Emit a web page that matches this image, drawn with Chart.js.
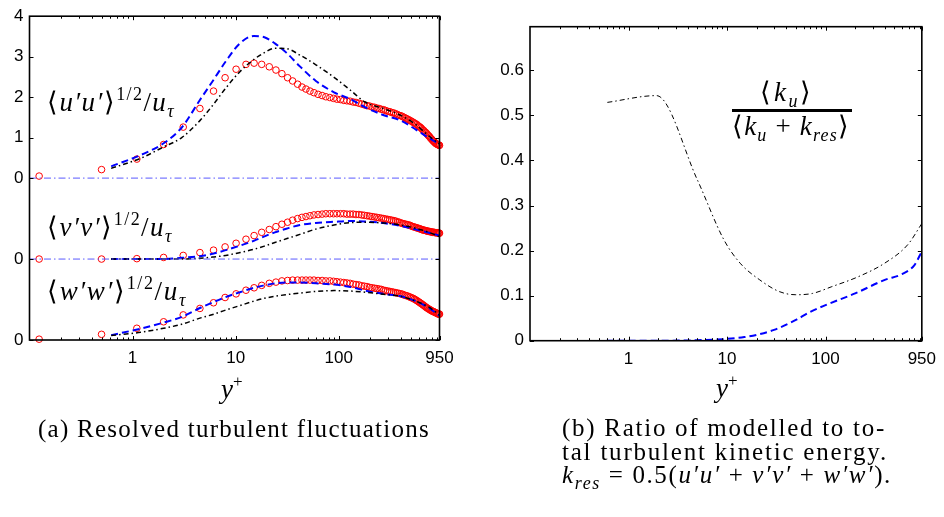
<!DOCTYPE html>
<html><head><meta charset="utf-8">
<script src="https://cdn.jsdelivr.net/npm/chart.js@4.4.1/dist/chart.umd.min.js"></script>
<style>
body{margin:0;background:#fff;}
#wrap{position:relative;width:944px;height:517px;overflow:hidden;background:#fff}
canvas{position:absolute;top:0}
.t{position:absolute;font-family:'Liberation Serif',serif;color:#000;white-space:nowrap;line-height:1}
.m{font-style:italic}
.r{font-style:normal}
.sup{font-size:18px;position:relative;top:-11px;font-style:normal}
.sub{font-size:18px;position:relative;top:6px;font-style:italic}
</style></head><body>
<div id="wrap">
<canvas id="c1" width="472" height="517" style="left:0"></canvas>
<canvas id="c2" width="472" height="517" style="left:472px"></canvas>

<div class="t" data-w="128" style="left:47px;top:88.5px;font-size:27px"><span class="r">⟨</span><span class="m">u′u′</span><span class="r">⟩</span><span class="sup">1/2</span><span class="r">/</span><span class="m">u</span><span class="sub">τ</span></div>
<div class="t" data-w="126" style="left:47px;top:214px;font-size:27px"><span class="r">⟨</span><span class="m">v′v′</span><span class="r">⟩</span><span class="sup">1/2</span><span class="r">/</span><span class="m">u</span><span class="sub">τ</span></div>
<div class="t" data-w="140" style="left:47px;top:278px;font-size:27px"><span class="r">⟨</span><span class="m">w′w′</span><span class="r">⟩</span><span class="sup">1/2</span><span class="r">/</span><span class="m">u</span><span class="sub">τ</span></div>

<div class="t" data-w="53" data-cx="787" style="top:78.5px;font-size:27px"><span class="r">⟨</span><span class="m">k</span><span class="sub">u</span><span class="r">⟩</span></div>
<div style="position:absolute;left:731.5px;top:108.5px;width:120.5px;height:3px;background:#000"></div>
<div class="t" data-w="118" data-cx="791" style="top:112.5px;font-size:27px"><span class="r">⟨</span><span class="m">k</span><span class="sub">u</span><span class="r"> + </span><span class="m">k</span><span class="sub">res</span><span class="r">⟩</span></div>

<div class="t m" style="left:221px;top:376px;font-size:27px">y<span class="r" style="font-size:17px;position:relative;top:-11px">+</span></div>
<div class="t m" style="left:716px;top:375px;font-size:27px">y<span class="r" style="font-size:17px;position:relative;top:-11px">+</span></div>

<div class="t" data-w="392" style="left:38px;top:415.8px;font-size:25px">(a) Resolved turbulent fluctuations</div>
<div class="t" data-w="324" style="left:562px;top:415px;font-size:25px">(b) Ratio of modelled to to-</div>
<div class="t" data-w="326" style="left:562px;top:439px;font-size:25px">tal turbulent kinetic energy.</div>
<div class="t" data-w="330" style="left:562px;top:462px;font-size:25px"><span class="m">k</span><span class="sub">res</span> = 0.5(<span class="m">u′u′</span> + <span class="m">v′v′</span> + <span class="m">w′w′</span>).</div>
</div>
<script>
// ---------------- DATA ----------------
// resolved fluctuation profiles (red circles), wall-normal grid points
const circleX = [0.124,0.5,1.1,2.0,3.1,4.5,6.1,7.9,10.1,12.6,
  15.1,17.9,21.2,24.6,28.1,31.9,35.7,39.9,44,48.1,
  52.6,57.5,63,69,75,82,89,96,104,112,
  120,129,138,147,157,167,177,188,199,210,
  222,234,246,259,272,285,299,313,327,341,
  356,371,386,401,416,431,447,463,479,495,
  511,527,543,559,575,591,607,623,639,655,
  671,687,703,719,735,751,767,783,799,815,
  831,847,863,879,895,911,927,943,950];
const uCircles = [0.05,0.21,0.47,0.83,1.26,1.72,2.15,2.48,2.69,2.81,
  2.84,2.81,2.75,2.67,2.58,2.48,2.40,2.32,2.25,2.20,
  2.15,2.11,2.07,2.04,2.01,1.99,1.97,1.95,1.94,1.92,
  1.91,1.90,1.88,1.87,1.85,1.83,1.81,1.79,1.78,1.76,
  1.75,1.73,1.72,1.70,1.69,1.67,1.65,1.64,1.62,1.61,
  1.59,1.57,1.55,1.54,1.52,1.50,1.48,1.46,1.44,1.42,
  1.40,1.38,1.36,1.34,1.32,1.29,1.27,1.25,1.22,1.19,
  1.17,1.14,1.12,1.09,1.06,1.04,1.01,0.98,0.96,0.93,
  0.91,0.89,0.87,0.85,0.84,0.83,0.82,0.81,0.81];
const vCircles = [0,0,0.01,0.04,0.09,0.16,0.22,0.30,0.39,0.49,
  0.58,0.66,0.73,0.80,0.86,0.91,0.96,1.00,1.03,1.05,
  1.07,1.09,1.10,1.11,1.12,1.12,1.12,1.12,1.12,1.12,
  1.11,1.11,1.11,1.10,1.10,1.09,1.08,1.07,1.06,1.05,
  1.04,1.03,1.02,1.01,1.00,0.99,0.98,0.97,0.96,0.95,
  0.94,0.92,0.91,0.89,0.88,0.87,0.86,0.85,0.84,0.83,
  0.81,0.80,0.79,0.78,0.77,0.76,0.75,0.74,0.73,0.72,
  0.71,0.71,0.70,0.69,0.69,0.68,0.68,0.67,0.67,0.66,
  0.66,0.66,0.65,0.65,0.65,0.65,0.64,0.64,0.64];
const wCircles = [0.02,0.14,0.29,0.45,0.62,0.78,0.92,1.05,1.14,1.23,
  1.29,1.35,1.40,1.43,1.46,1.47,1.48,1.48,1.48,1.48,
  1.48,1.48,1.47,1.47,1.46,1.46,1.45,1.44,1.43,1.42,
  1.41,1.40,1.38,1.37,1.36,1.34,1.33,1.32,1.30,1.29,
  1.28,1.27,1.26,1.25,1.23,1.22,1.21,1.20,1.19,1.18,
  1.17,1.16,1.15,1.14,1.13,1.11,1.10,1.09,1.07,1.06,
  1.04,1.03,1.01,0.99,0.97,0.95,0.93,0.91,0.89,0.87,
  0.85,0.83,0.81,0.79,0.78,0.76,0.75,0.73,0.72,0.71,
  0.70,0.69,0.68,0.67,0.66,0.65,0.64,0.64,0.64];

// line profiles (blue dashed / black dash-dot)
const lineX   = [0.62,1.2,2,3,4.5,6,8,11,15,19,24,31,42,60,90,130,180,270,400,560,750,950];
const uBlue   = [0.29,0.57,0.86,1.25,1.93,2.40,2.88,3.33,3.51,3.48,3.33,3.10,2.76,2.40,2.12,1.95,1.75,1.56,1.42,1.20,0.99,0.84];
const uBlack  = [0.24,0.49,0.77,1.00,1.42,1.80,2.22,2.63,2.93,3.10,3.21,3.20,3.04,2.80,2.49,2.17,1.88,1.72,1.55,1.32,1.04,0.84];
const vBlue   = [0,0,0,0.03,0.07,0.13,0.22,0.33,0.45,0.56,0.66,0.75,0.84,0.89,0.92,0.94,0.93,0.89,0.82,0.73,0.65,0.58];
const vBlack  = [0,0,0,0,0.02,0.05,0.09,0.16,0.24,0.32,0.41,0.50,0.61,0.74,0.84,0.90,0.91,0.89,0.84,0.76,0.66,0.55];
const wBlue   = [0.12,0.28,0.43,0.57,0.79,0.93,1.06,1.18,1.29,1.35,1.40,1.42,1.42,1.40,1.37,1.31,1.22,1.14,1.08,0.96,0.79,0.60];
const wBlack  = [0.11,0.19,0.29,0.39,0.54,0.63,0.74,0.85,0.96,1.03,1.08,1.12,1.16,1.20,1.22,1.21,1.18,1.13,1.08,0.96,0.81,0.62];

const profileOffsets = [4, 2, 0];   // stacking of u, v, w panels
const baselineLevels = [4, 2];      // zero lines of the shifted u and v profiles

// ratio of resolved to total TKE (right panel)
const ratioBlackX = [0.61,1.92,5.0,9.3,13.6,21.5,34,50,74,116,215,398,683,950];
const ratioBlack  = [0.529,0.544,0.357,0.224,0.172,0.135,0.109,0.102,0.105,0.120,0.142,0.172,0.213,0.260];
const ratioBlueX  = [0.6,2,5,10,15,20,30,50,70,100,200,400,600,800,950];
const ratioBlue   = [0,0,0.001,0.004,0.008,0.013,0.024,0.046,0.064,0.079,0.105,0.135,0.148,0.168,0.198];

// ticks
const xMajorTicks  = [1,10,100,950];
const xMajorLabels = ['1','10','100','950'];
const xMinorTicks  = [0.2,0.3,0.4,0.5,0.6,0.7,0.8,0.9,2,3,4,5,6,7,8,9,20,30,40,50,60,70,80,90,200,300,400,500,600,700,800,900];
const leftYTicks   = [0,2,4,5,6,7,8];
const leftYLabels  = ['0','0','0','1','2','3','4'];
const rightYTicks  = [0,0.1,0.2,0.3,0.4,0.5,0.6];
const rightYLabels = ['0','0.1','0.2','0.3','0.4','0.5','0.6'];

// ---------------- TEXT FITTING ----------------
document.querySelectorAll('[data-w]').forEach(el=>{
  el.style.letterSpacing='0px';
  const nat=el.getBoundingClientRect().width;
  const n=el.textContent.length;
  el.style.letterSpacing=((parseFloat(el.dataset.w)-nat)/n)+'px';
  if(el.dataset.cx){const w=el.getBoundingClientRect().width;el.style.left=(parseFloat(el.dataset.cx)-w/2)+'px';}
});

// ---------------- STYLE / BUILD ----------------
const BLUE='#0000ff', BLACK='#000000', RED='#ff0000', BASE='#5a5aff';
const pts=(xs,ys,off=0)=>xs.map((x,i)=>({x:x,y:ys[i]+off}));

const frameTicks={
  id:'frameTicks',
  afterDatasetsDraw(chart,args,o){
    const ctx=chart.ctx,a=chart.chartArea,x=chart.scales.x,y=chart.scales.y;
    ctx.save();ctx.strokeStyle='#000';ctx.lineWidth=1;
    const ln=(x1,y1,x2,y2)=>{ctx.beginPath();ctx.moveTo(x1,y1);ctx.lineTo(x2,y2);ctx.stroke();};
    const xt=(v,len)=>{const p=Math.round(x.getPixelForValue(v))+0.5;ln(p,a.bottom,p,a.bottom-len);ln(p,a.top,p,a.top+len);};
    o.xMajor.forEach(v=>xt(v,o.major));
    o.xMinor.forEach(v=>xt(v,o.minor));
    o.yMajor.forEach(v=>{const p=Math.round(y.getPixelForValue(v))+0.5;ln(a.left,p,a.left+o.major,p);ln(a.right,p,a.right-o.major,p);});
    ctx.lineWidth=1.6;
    ctx.strokeRect(a.left,a.top,a.right-a.left,a.bottom-a.top);
    ctx.restore();
  }
};
const tickFont={family:"'Liberation Sans', Arial, sans-serif",size:17};

function xScale(h){
  return {type:'logarithmic',min:0.1,max:950,
    grid:{display:false,drawTicks:false},border:{display:false},
    afterBuildTicks:s=>{s.ticks=xMajorTicks.map(v=>({value:v}));},
    afterFit:s=>{s.height=h;},
    ticks:{autoSkip:false,maxRotation:0,color:'#000',font:tickFont,padding:8,
      callback:v=>{const i=xMajorTicks.indexOf(v);return i<0?'':xMajorLabels[i];}}};
}
function yScale(min,max,ticks,labels,w){
  return {type:'linear',min:min,max:max,
    grid:{display:false,drawTicks:false},border:{display:false},
    afterBuildTicks:s=>{s.ticks=ticks.map(v=>({value:v}));},
    afterFit:s=>{s.width=w;},
    ticks:{autoSkip:false,color:'#000',font:tickFont,padding:6,
      callback:v=>{const i=ticks.indexOf(v);return i<0?'':labels[i];}}};
}

// left chart datasets
const ds1=[];
baselineLevels.forEach(L=>ds1.push({data:[{x:0.1,y:L},{x:950,y:L}],showLine:true,borderColor:BASE,borderWidth:1,borderDash:[7,3,1.5,3],pointRadius:0}));
const blues=[uBlue,vBlue,wBlue], blacks=[uBlack,vBlack,wBlack], circs=[uCircles,vCircles,wCircles];
profileOffsets.forEach((off,k)=>{
  ds1.push({data:pts(lineX,blacks[k],off),showLine:true,borderColor:BLACK,borderWidth:1.5,borderDash:[5,3,1.5,3],pointRadius:0,cubicInterpolationMode:'monotone'});
  ds1.push({data:pts(lineX,blues[k],off),showLine:true,borderColor:BLUE,borderWidth:2,borderDash:[7,4],pointRadius:0,cubicInterpolationMode:'monotone'});
});
profileOffsets.forEach((off,k)=>{
  ds1.push({data:pts(circleX,circs[k],off),showLine:false,pointStyle:'circle',pointRadius:3.3,pointBorderWidth:1,pointBorderColor:RED,pointBackgroundColor:'rgba(0,0,0,0)',clip:6});
});

new Chart(document.getElementById('c1'),{
  type:'scatter',
  data:{datasets:ds1},
  plugins:[frameTicks],
  options:{responsive:false,animation:false,
    layout:{padding:{left:0,top:16,right:32.5,bottom:0}},
    plugins:{legend:{display:false},tooltip:{enabled:false},
      frameTicks:{xMajor:xMajorTicks,xMinor:xMinorTicks,yMajor:leftYTicks,major:4,minor:2.5}},
    scales:{x:xScale(177),y:yScale(0,8,leftYTicks,leftYLabels,29.5)}}
});

new Chart(document.getElementById('c2'),{
  type:'scatter',
  data:{datasets:[
    {data:pts(ratioBlackX,ratioBlack),showLine:true,borderColor:BLACK,borderWidth:1,borderDash:[5,3,1.5,3],pointRadius:0,cubicInterpolationMode:'monotone'},
    {data:pts(ratioBlueX,ratioBlue),showLine:true,borderColor:BLUE,borderWidth:2,borderDash:[7,4],pointRadius:0,cubicInterpolationMode:'monotone'}
  ]},
  plugins:[frameTicks],
  options:{responsive:false,animation:false,
    layout:{padding:{left:0,top:26.7,right:16.5,bottom:0}},
    plugins:{legend:{display:false},tooltip:{enabled:false},
      frameTicks:{xMajor:xMajorTicks,xMinor:xMinorTicks,yMajor:rightYTicks,major:4,minor:2.5}},
    scales:{x:xScale(176.3),y:yScale(0,0.697,rightYTicks,rightYLabels,58)}}
});
</script>
</body></html>
